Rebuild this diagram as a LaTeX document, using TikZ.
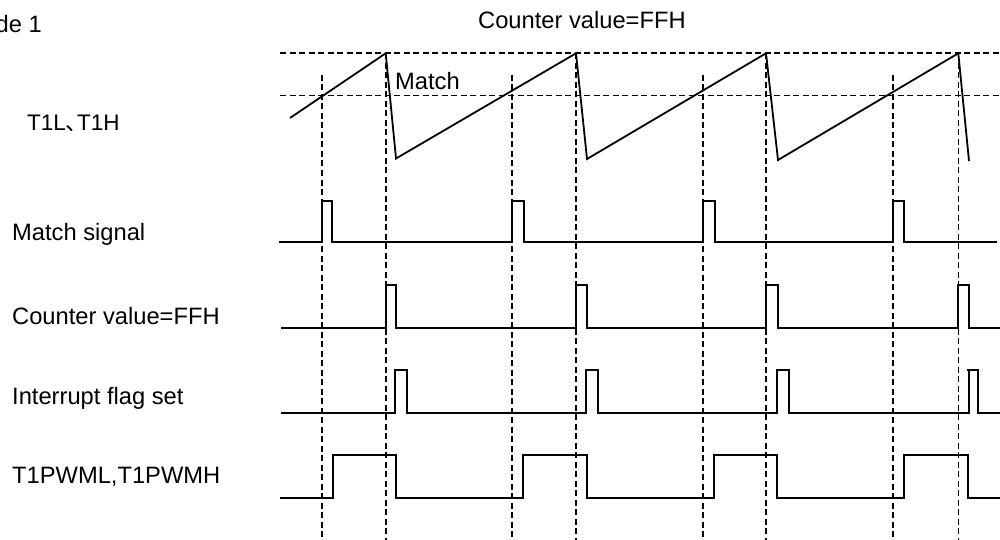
\documentclass[tikz,border=0pt]{standalone}
\usepackage{fontspec}
\setmainfont{Liberation Sans}
\newfontfamily\cjk[RawFeature=+palt]{Noto Sans CJK SC}
\begin{document}
\begin{tikzpicture}[x=1pt,y=-1pt,
  sig/.style={line width=1.8pt, line join=miter},
  guide/.style={line width=1.6pt, dash pattern=on 6pt off 3.5pt},
  lbl/.style={inner sep=0pt, anchor=base west, font=\fontsize{23.7}{28}\selectfont},
  lblr/.style={inner sep=0pt, anchor=base east, font=\fontsize{23.7}{28}\selectfont}]
\useasboundingbox (0,0) rectangle (1000,540);
% labels
\node[lblr] (mode) at (42,33) {de 1};
\node[lbl] (top) at (478,29) {Counter value=FFH};
\node[lbl] (match) at (395,89.5) {Match};
\node[lbl, font=\fontsize{22.5}{27}\selectfont] (t1) at (27,131) {T1L{\cjk 、}T1H};
\node[lbl] (ms) at (12,240.5) {Match signal};
\node[lbl] (cv) at (12,324) {Counter value=FFH};
\node[lbl] (ifs) at (12,404.5) {Interrupt flag set};
\node[lbl] (pwm) at (12,483.5) {T1PWML,T1PWMH};
% horizontal guides
\draw[guide] (280,53.3) -- (1000,53.3);
\draw[guide] (280,95.7) -- (1000,95.7);
% vertical guides
\foreach \x in {322,512,703,893} \draw[guide] (\x,75) -- (\x,540);
\foreach \x in {385.7,576,766,958.3} \draw[guide] (\x,53.3) -- (\x,540);
% sawtooth
\draw[sig] (290,118) -- (385.7,53.3) -- (396,158.5) -- (576,53.3) -- (587,159) -- (766,53.3) -- (778,160) -- (958.3,53.3) -- (969,161);
% match signal
\draw[sig] (279,242)--(322,242)--(322,201)--(332,201)--(332,242)--(512,242)--(512,201)--(524,201)--(524,242)--(703,242)--(703,201)--(715,201)--(715,242)--(893,242)--(893,201)--(904,201)--(904,242)--(997,242);
% counter value = FFH
\draw[sig] (281,328)--(386,328)--(386,285)--(396,285)--(396,328)--(576,328)--(576,285)--(587,285)--(587,328)--(766,328)--(766,285)--(778,285)--(778,328)--(958,328)--(958,285)--(969,285)--(969,328)--(1000,328);
% interrupt flag
\draw[sig] (281,413)--(395,413)--(395,370)--(407,370)--(407,413)--(586,413)--(586,370)--(598,370)--(598,413)--(777,413)--(777,370)--(789,370)--(789,413)--(969,413)--(969,370)--(978,370)--(978,413)--(1000,413);
\draw[sig] (966.5,370) -- (969,370);
% PWM
\draw[sig] (280,498)--(333,498)--(333,455)--(396,455)--(396,498)--(523,498)--(523,455)--(587,455)--(587,498)--(714,498)--(714,455)--(777,455)--(777,498)--(904,498)--(904,455)--(968,455)--(968,498)--(1000,498);
\end{tikzpicture}
\end{document}
